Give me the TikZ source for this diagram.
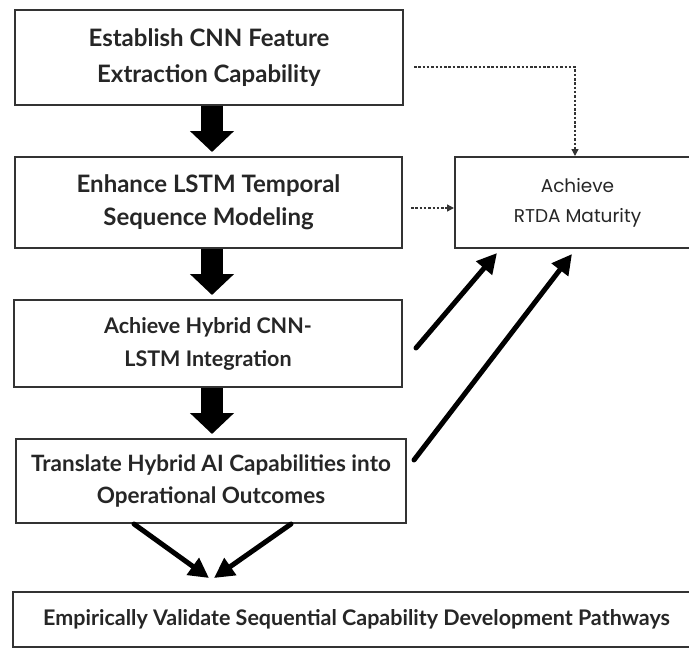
\documentclass[tikz,border=0pt]{standalone}
\usepackage{fontspec}
\setmainfont{Lato}
\newfontfamily\plainfont{Poppins}
\usetikzlibrary{arrows.meta,calc}

\tikzset{
  box/.style={draw=black!80, line width=2pt, rectangle, inner sep=0pt,
    align=center, text=black!85},
  boxfont/.style 2 args={font=\bfseries\fontsize{#1}{#2}\selectfont},
  bigarrow/.style={line width=22pt, black,
    -{Triangle[width=43pt,length=21pt]}, shorten >=4pt},
  slantarrow/.style={line width=5pt, black, line cap=round,
    -{Triangle[width=20pt,length=20pt]}},
  dotarrow/.style={line width=1.4pt, black!80, dash pattern=on 2.5pt off 1.8pt,
    -{Triangle[width=7pt,length=7pt]}}
}

\begin{document}
\begin{tikzpicture}[x=1pt,y=-1pt]
\useasboundingbox[fill=white] (0,0) rectangle (689,648);

% main column of capability steps
\node[box, boxfont={24}{36}, minimum width=388pt, minimum height=95pt] (b1) at (209,57.5)
  {Establish CNN Feature\\Extraction Capability};
\node[box, boxfont={24}{33}, minimum width=387pt, minimum height=91pt] (b2) at (208.5,202.5)
  {Enhance LSTM Temporal\\Sequence Modeling};
\node[box, boxfont={21.5}{33}, minimum width=388pt, minimum height=87pt] (b3) at (208,343.5)
  {Achieve Hybrid CNN-\\LSTM Integration};
\node[box, boxfont={22.5}{32}, minimum width=390pt, minimum height=84pt] (b4) at (211,481)
  {Translate Hybrid AI Capabilities into\\Operational Outcomes};
\node[box, boxfont={21.5}{26}, minimum width=687pt, minimum height=55pt] (b5) at (356.5,619.5)
  {Empirically Validate Sequential Capability Development Pathways};

% outcome box on the right
\node[box, minimum width=245pt, minimum height=91pt,
      font=\plainfont\fontsize{18.5}{30}\selectfont] (rt) at (577.5,202.5)
  {Achieve\\RTDA Maturity};

% sequential flow
\draw[bigarrow] (b1.south) ++(3,0) coordinate (a1) (a1) -- (a1 |- b2.north);
\draw[bigarrow] (b2.south) ++(3.5,0) coordinate (a2) (a2) -- (a2 |- b3.north);
\draw[bigarrow] (b3.south) ++(4,0) coordinate (a3) (a3) -- (a3 |- b4.north);

% contributions to RTDA maturity
\coordinate (s1) at ($(b1.east)+(10,9.5)$);
\coordinate (k1) at ($(rt.north west)+(121,0)$);
\draw[dotarrow] (s1) -- (s1 -| k1) -- (k1);
\coordinate (s2) at ($(b2.east)+(8,5.5)$);
\draw[dotarrow] (s2) -- (s2 -| rt.west);

\coordinate (s3) at ($(b3.east)+(13,4.5)$);
\coordinate (t3) at ($(rt.south west)+(43,4)$);
\draw[slantarrow] (s3) -- (t3);
\coordinate (s4) at ($(b4.east)+(7,-21)$);
\coordinate (t4) at ($(rt.south west)+(118,5)$);
\draw[slantarrow] (s4) -- (t4);

% validation of the pathways
\coordinate (s5) at ($(b4.south west)+(119,0)$);
\coordinate (s6) at ($(b4.south west)+(276,0)$);
\coordinate (t5) at ($(b5.north west)+(197,-13)$);
\coordinate (t6) at ($(b5.north west)+(202,-13)$);
\draw[slantarrow] (s5) -- (t5);
\draw[slantarrow] (s6) -- (t6);
\end{tikzpicture}
\end{document}
